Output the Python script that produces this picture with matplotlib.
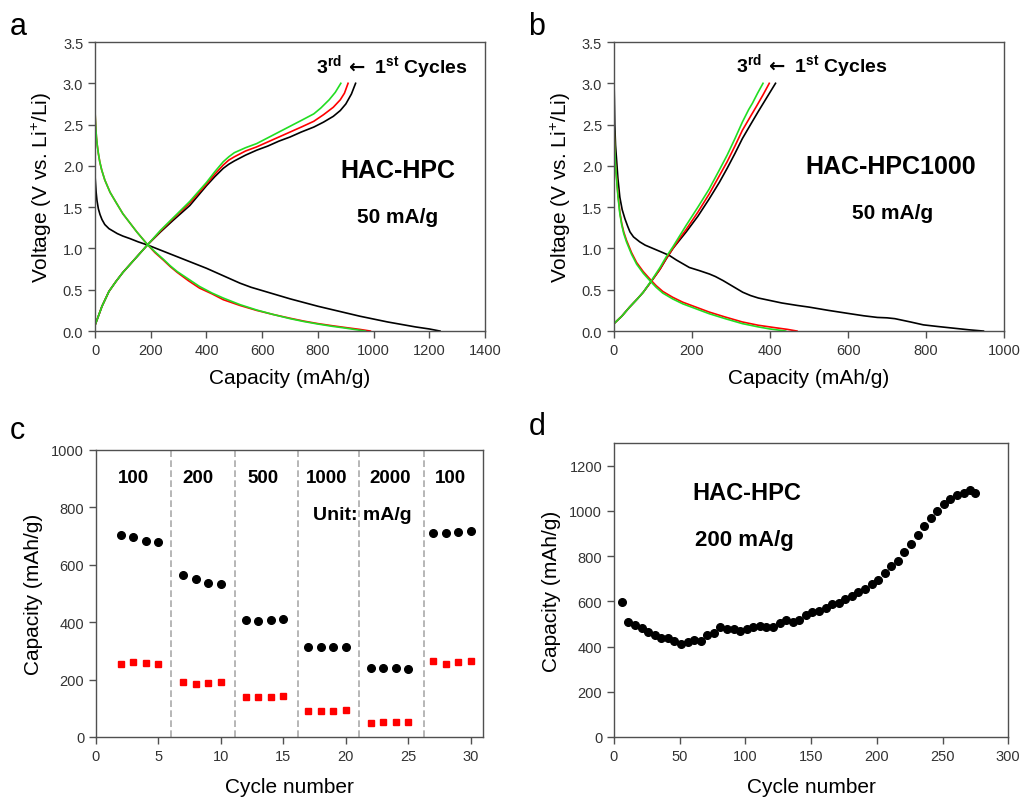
import matplotlib
matplotlib.use("Agg")
import matplotlib.pyplot as plt

plt.rcParams['font.family'] = ['Liberation Sans', 'DejaVu Sans']
plt.rcParams['mathtext.fontset'] = 'custom'
plt.rcParams['mathtext.rm'] = 'Liberation Sans'
plt.rcParams['mathtext.bf'] = 'Liberation Sans:bold'
plt.rcParams['mathtext.sf'] = 'DejaVu Sans:bold'

# --- panel a: HAC-HPC, 50 mA/g ---
a_dis1_cap = [0, 2, 4, 7, 12, 18, 25, 35, 50, 65, 80, 100, 125, 155, 190, 235, 280, 340, 400, 460,
              520, 560, 600, 650, 700, 750, 800, 850, 900, 950, 1000, 1050, 1100, 1150, 1200, 1238]
a_dis1_v = [1.88, 1.78, 1.68, 1.58, 1.48, 1.41, 1.35, 1.29, 1.24, 1.21, 1.18, 1.15, 1.12, 1.08, 1.04,
            0.98, 0.92, 0.84, 0.76, 0.67, 0.58, 0.53, 0.49, 0.44, 0.39, 0.345, 0.30, 0.26, 0.22,
            0.18, 0.145, 0.11, 0.08, 0.05, 0.025, 0.0]
a_dis2_cap = [0, 1, 3, 5, 8, 12, 17, 24, 35, 54, 75, 100, 125, 150, 170, 190, 215, 245, 270, 295,
              335, 375, 420, 460, 520, 580, 640, 700, 750, 800, 850, 900, 950, 988]
a_dis2_v = [2.67, 2.58, 2.45, 2.35, 2.25, 2.15, 2.05, 1.95, 1.83, 1.68, 1.56, 1.42, 1.31, 1.20, 1.12,
            1.04, 0.95, 0.86, 0.78, 0.71, 0.61, 0.52, 0.45, 0.38, 0.31, 0.25, 0.20, 0.155, 0.12,
            0.09, 0.065, 0.042, 0.02, 0.0]
a_dis3_cap = [0, 1, 3, 5, 8, 12, 17, 24, 35, 54, 75, 100, 125, 150, 170, 190, 215, 245, 270, 295,
              335, 375, 420, 460, 520, 580, 640, 700, 750, 800, 850, 900, 940, 970]
a_dis3_v = [2.67, 2.58, 2.45, 2.35, 2.25, 2.15, 2.05, 1.95, 1.83, 1.68, 1.56, 1.42, 1.31, 1.20, 1.12,
            1.04, 0.96, 0.87, 0.79, 0.72, 0.63, 0.54, 0.46, 0.40, 0.32, 0.255, 0.20, 0.15, 0.115,
            0.085, 0.058, 0.035, 0.015, 0.0]
a_chg1_cap = [0, 25, 50, 75, 100, 145, 190, 235, 280, 340, 400, 430, 460, 480, 500, 540, 580, 620,
              660, 700, 740, 785, 820, 855, 880, 900, 920, 935]
a_chg1_v = [0.07, 0.3, 0.48, 0.6, 0.71, 0.88, 1.05, 1.2, 1.34, 1.52, 1.76, 1.87, 1.97, 2.02, 2.06,
            2.13, 2.19, 2.24, 2.3, 2.35, 2.41, 2.47, 2.53, 2.6, 2.67, 2.75, 2.87, 3.0]
a_chg2_cap = [0, 25, 50, 75, 100, 145, 190, 235, 280, 340, 400, 430, 460, 480, 500, 540, 580, 620,
              660, 700, 740, 785, 820, 855, 880, 895, 908]
a_chg2_v = [0.07, 0.3, 0.48, 0.6, 0.71, 0.88, 1.05, 1.21, 1.36, 1.55, 1.78, 1.9, 2.01, 2.07, 2.11,
            2.18, 2.23, 2.29, 2.35, 2.41, 2.47, 2.54, 2.62, 2.71, 2.8, 2.88, 3.0]
a_chg3_cap = [0, 25, 50, 75, 100, 145, 190, 235, 280, 340, 400, 430, 460, 480, 500, 540, 580, 620,
              660, 700, 740, 785, 810, 840, 862, 882]
a_chg3_v = [0.07, 0.3, 0.48, 0.6, 0.71, 0.88, 1.05, 1.22, 1.37, 1.57, 1.80, 1.93, 2.05, 2.11, 2.16,
            2.22, 2.27, 2.34, 2.41, 2.48, 2.55, 2.63, 2.7, 2.8, 2.89, 3.0]

# --- panel b: HAC-HPC1000, 50 mA/g ---
b_dis1_cap = [0, 1, 2, 4, 7, 10, 15, 21, 28, 35, 41, 50, 66, 80, 100, 120, 142, 160, 193, 220, 245,
              260, 280, 305, 330, 350, 370, 400, 430, 470, 500, 550, 605, 640, 675, 700, 720, 760,
              793, 830, 870, 910, 947]
b_dis1_v = [3.05, 2.8, 2.5, 2.25, 2.05, 1.85, 1.62, 1.47, 1.36, 1.27, 1.2, 1.14, 1.08, 1.04, 1.0,
            0.96, 0.915, 0.86, 0.77, 0.73, 0.69, 0.66, 0.61, 0.54, 0.47, 0.43, 0.4, 0.37, 0.34,
            0.31, 0.29, 0.25, 0.21, 0.185, 0.165, 0.16, 0.15, 0.11, 0.075, 0.055, 0.035, 0.015, 0.0]
b_dis2_cap = [0, 1, 2, 4, 7, 10, 15, 20, 25, 32, 45, 58, 75, 92, 108, 125, 150, 176, 210, 244, 285,
              329, 370, 414, 445, 469]
b_dis2_v = [2.5, 2.35, 2.2, 2.0, 1.84, 1.66, 1.44, 1.3, 1.2, 1.1, 0.95, 0.83, 0.72, 0.63, 0.55, 0.48,
            0.41, 0.35, 0.29, 0.23, 0.17, 0.11, 0.07, 0.04, 0.02, 0.0]
b_dis3_cap = [0, 1, 2, 4, 7, 10, 15, 20, 25, 32, 45, 58, 75, 92, 108, 125, 150, 176, 210, 244, 285,
              329, 370, 400, 425, 440]
b_dis3_v = [2.55, 2.35, 2.2, 2.0, 1.82, 1.64, 1.42, 1.28, 1.18, 1.08, 0.93, 0.81, 0.7, 0.61, 0.53,
            0.46, 0.39, 0.33, 0.27, 0.21, 0.15, 0.09, 0.05, 0.025, 0.01, 0.0]
b_chg1_cap = [0, 20, 40, 60, 75, 100, 118, 134, 151, 168, 185, 215, 244, 270, 290, 310, 329, 350,
              370, 392, 414]
b_chg1_v = [0.09, 0.18, 0.29, 0.39, 0.47, 0.63, 0.75, 0.875, 1.0, 1.1, 1.2, 1.39, 1.6, 1.8, 1.97,
            2.15, 2.33, 2.5, 2.66, 2.83, 3.0]
b_chg2_cap = [0, 20, 40, 60, 75, 100, 118, 134, 151, 168, 185, 215, 244, 270, 290, 310, 329, 350,
              365, 382, 398]
b_chg2_v = [0.09, 0.18, 0.29, 0.39, 0.47, 0.63, 0.75, 0.88, 1.0, 1.12, 1.23, 1.44, 1.66, 1.88, 2.05,
            2.24, 2.43, 2.6, 2.72, 2.86, 3.0]
b_chg3_cap = [0, 20, 40, 60, 75, 100, 118, 134, 151, 168, 185, 215, 244, 270, 290, 310, 329, 345,
              355, 368, 382]
b_chg3_v = [0.09, 0.18, 0.29, 0.39, 0.47, 0.64, 0.77, 0.9, 1.02, 1.15, 1.28, 1.5, 1.72, 1.95, 2.13,
            2.33, 2.53, 2.68, 2.76, 2.88, 3.0]

# --- panel c: rate capability ---
c_cycles = [2, 3, 4, 5, 7, 8, 9, 10, 12, 13, 14, 15, 17, 18, 19, 20, 22, 23, 24, 25, 27, 28, 29, 30]
c_hac_hpc = [704, 696, 684, 679, 566, 549, 537, 532, 407, 405, 407, 410,
             313, 313, 312, 312, 240, 240, 239, 238, 709, 712, 713, 716]
c_hac_hpc1000 = [255, 262, 259, 255, 190, 183, 187, 191, 139, 139, 140, 143,
                 90, 90, 92, 93, 50, 51, 52, 53, 264, 255, 260, 266]
c_rates = ['100', '200', '500', '1000', '2000', '100']
c_rate_x = [3.0, 8.2, 13.4, 18.5, 23.6, 28.4]
c_dividers = [6.05, 11.1, 16.15, 21.1, 26.25]

# --- panel d: cycling at 200 mA/g ---
d_cycles = [6, 11, 16, 21, 26, 31, 36, 41, 46, 51, 56, 61, 66, 71, 76, 81, 86, 91, 96,
            101, 106, 111, 116, 121, 126, 131, 136, 141, 146, 151, 156, 161, 166, 171,
            176, 181, 186, 191, 196, 201, 206, 211, 216, 221, 226, 231, 236, 241, 246,
            251, 256, 261, 266, 271, 275]
d_capacity = [596, 510, 494, 480, 463, 452, 437, 437, 426, 409, 418, 430, 423, 449, 461,
              485, 479, 479, 470, 476, 485, 491, 485, 488, 502, 519, 507, 519, 539, 551,
              559, 569, 587, 593, 609, 622, 640, 655, 677, 695, 727, 754, 780, 817, 853,
              893, 932, 968, 999, 1030, 1052, 1070, 1080, 1092, 1079]

spine_col = '#505050'
tick_col = '#333333'
cycles_label = r'$\mathbf{3^{rd}}\,\mathsf{\leftarrow}\ \mathbf{1^{st}}$' + ' Cycles'


def style(ax):
    for s in ax.spines.values():
        s.set_color(spine_col)
        s.set_linewidth(1.0)
    ax.tick_params(direction='out', length=5, width=1, color=spine_col,
                   labelcolor=tick_col, labelsize=10.5, top=False, right=False)


fig = plt.figure(figsize=(10.24, 8.04), dpi=100)
ax_a = fig.add_axes([0.0928, 0.587, 0.381, 0.3595])
ax_b = fig.add_axes([0.5996, 0.587, 0.381, 0.3595])
ax_c = fig.add_axes([0.0937, 0.0821, 0.378, 0.357])
ax_d = fig.add_axes([0.5996, 0.0821, 0.385, 0.3657])

lw = 1.2
cols = ['black', 'red', '#22dd22']

# panel a
for cap, v, c in [(a_dis1_cap, a_dis1_v, cols[0]), (a_chg1_cap, a_chg1_v, cols[0]),
                  (a_dis2_cap, a_dis2_v, cols[1]), (a_chg2_cap, a_chg2_v, cols[1]),
                  (a_dis3_cap, a_dis3_v, cols[2]), (a_chg3_cap, a_chg3_v, cols[2])]:
    ax_a.plot(cap, v, color=c, lw=lw)
ax_a.set_xlim(0, 1400)
ax_a.set_ylim(0, 3.5)
ax_a.set_xticks(range(0, 1401, 200))
ax_a.set_yticks([0, 0.5, 1.0, 1.5, 2.0, 2.5, 3.0, 3.5])
ax_a.yaxis.set_major_formatter(matplotlib.ticker.FormatStrFormatter('%.1f'))
ax_a.set_xlabel('Capacity (mAh/g)', fontsize=15, labelpad=8)
ax_a.set_ylabel('Voltage (V vs. Li$^{+}$/Li)', fontsize=15, labelpad=6)
ax_a.text(1339, 3.21, cycles_label, ha='right', va='center', fontsize=14, fontweight='bold')
ax_a.text(1088, 1.95, 'HAC-HPC', ha='center', va='center', fontsize=18, fontweight='bold')
ax_a.text(1085, 1.39, '50 mA/g', ha='center', va='center', fontsize=15, fontweight='bold')
style(ax_a)

# panel b
for cap, v, c in [(b_dis1_cap, b_dis1_v, cols[0]), (b_chg1_cap, b_chg1_v, cols[0]),
                  (b_dis2_cap, b_dis2_v, cols[1]), (b_chg2_cap, b_chg2_v, cols[1]),
                  (b_dis3_cap, b_dis3_v, cols[2]), (b_chg3_cap, b_chg3_v, cols[2])]:
    ax_b.plot(cap, v, color=c, lw=lw)
ax_b.set_xlim(0, 1000)
ax_b.set_ylim(0, 3.5)
ax_b.set_xticks(range(0, 1001, 200))
ax_b.set_yticks([0, 0.5, 1.0, 1.5, 2.0, 2.5, 3.0, 3.5])
ax_b.yaxis.set_major_formatter(matplotlib.ticker.FormatStrFormatter('%.1f'))
ax_b.set_xlabel('Capacity (mAh/g)', fontsize=15, labelpad=8)
ax_b.set_ylabel('Voltage (V vs. Li$^{+}$/Li)', fontsize=15, labelpad=6)
ax_b.text(703, 3.22, cycles_label, ha='right', va='center', fontsize=14, fontweight='bold')
ax_b.text(708, 2.0, 'HAC-HPC1000', ha='center', va='center', fontsize=18, fontweight='bold')
ax_b.text(715, 1.44, '50 mA/g', ha='center', va='center', fontsize=15, fontweight='bold')
style(ax_b)

# panel c
ax_c.plot(c_cycles, c_hac_hpc, 'o', color='black', ms=5.5, ls='none')
ax_c.plot(c_cycles, c_hac_hpc1000, 's', color='red', ms=5, ls='none')
for xd in c_dividers:
    ax_c.axvline(xd, color='#aaaaaa', ls=(0, (4, 2)), lw=1.2)
for lab, xr in zip(c_rates, c_rate_x):
    ax_c.text(xr, 905, lab, ha='center', va='center', fontsize=13.5, fontweight='bold')
ax_c.text(21.3, 774, 'Unit: mA/g', ha='center', va='center', fontsize=14, fontweight='bold')
ax_c.set_xlim(0, 31)
ax_c.set_ylim(0, 1000)
ax_c.set_xticks(range(0, 31, 5))
ax_c.set_yticks(range(0, 1001, 200))
ax_c.set_xlabel('Cycle number', fontsize=15, labelpad=10)
ax_c.set_ylabel('Capacity (mAh/g)', fontsize=15, labelpad=6)
style(ax_c)

# panel d
ax_d.plot(d_cycles, d_capacity, 'o', color='black', ms=5.5, ls='none')
ax_d.set_xlim(0, 300)
ax_d.set_ylim(0, 1300)
ax_d.set_xticks(range(0, 301, 50))
ax_d.set_yticks(range(0, 1201, 200))
ax_d.text(101, 1083, 'HAC-HPC', ha='center', va='center', fontsize=17, fontweight='bold')
ax_d.text(99, 875, '200 mA/g', ha='center', va='center', fontsize=16, fontweight='bold')
ax_d.set_xlabel('Cycle number', fontsize=15, labelpad=10)
ax_d.set_ylabel('Capacity (mAh/g)', fontsize=15, labelpad=6)
style(ax_d)

# panel letters
fig.text(0.010, 0.985, 'a', fontsize=22, va='top')
fig.text(0.516, 0.985, 'b', fontsize=22, va='top')
fig.text(0.010, 0.482, 'c', fontsize=22, va='top')
fig.text(0.516, 0.488, 'd', fontsize=22, va='top')

fig.savefig('out.png', dpi=100)
